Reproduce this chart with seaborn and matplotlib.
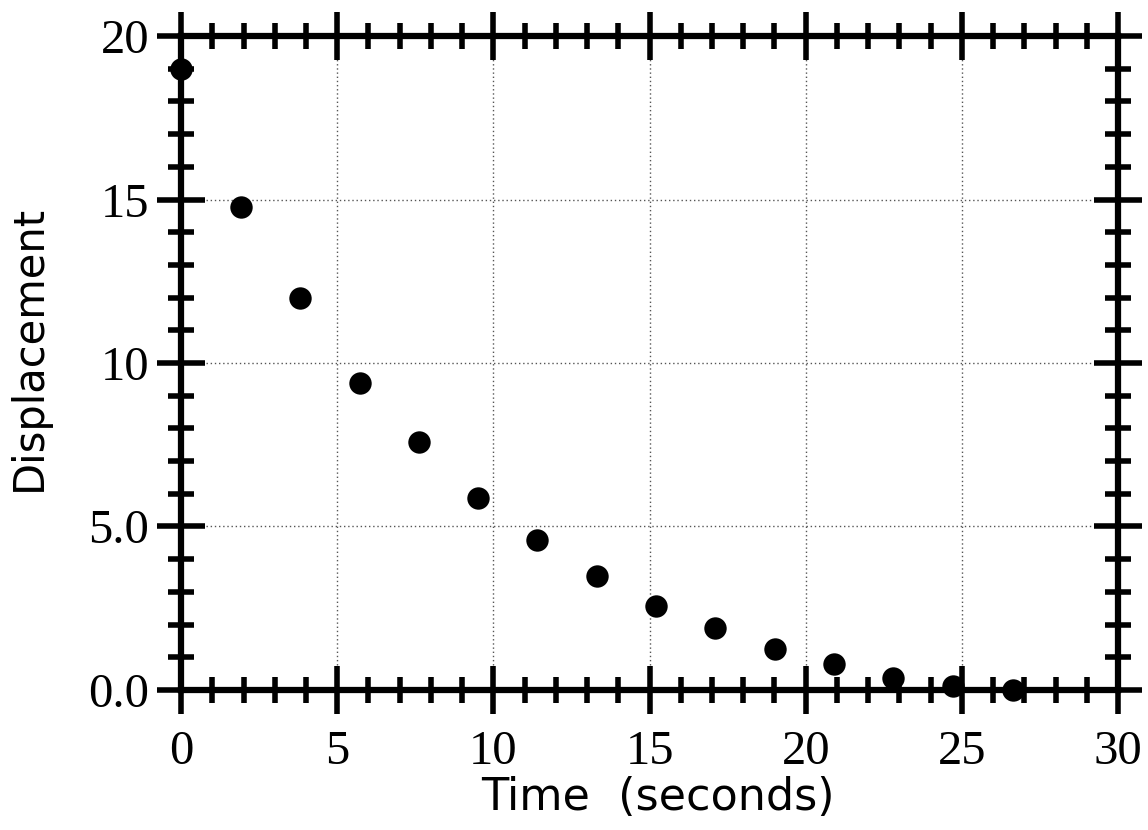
import matplotlib
matplotlib.use("Agg")
import matplotlib.pyplot as plt
import seaborn as sns
import pandas as pd
from matplotlib.ticker import MultipleLocator, FixedLocator, FixedFormatter

time_s = [0.0, 1.92, 3.81, 5.73, 7.62, 9.51, 11.4, 13.32, 15.21, 17.1, 19.02, 20.9, 22.8, 24.72, 26.64]
displacement = [19.0, 14.77, 11.99, 9.39, 7.58, 5.87, 4.59, 3.49, 2.57, 1.9, 1.25, 0.8, 0.37, 0.12, 0.0]
x_ticks = [0, 5, 10, 15, 20, 25, 30]
y_ticks = [0, 5, 10, 15, 20]
y_tick_labels = ["0.0", "5.0", "10", "15", "20"]

df = pd.DataFrame({"Time": time_s, "Displacement": displacement})

sns.set_style("white")
fig = plt.figure(figsize=(11.48, 8.3), dpi=100)
ax = fig.add_axes([0.1577, 0.1687, 0.9739 - 0.1577, 0.9566 - 0.1687])

sns.scatterplot(data=df, x="Time", y="Displacement", ax=ax, color="black",
                s=260, edgecolor="black", linewidth=0, zorder=5, clip_on=False)

ax.set_xlim(0, 30)
ax.set_ylim(0, 20)
ax.xaxis.set_major_locator(FixedLocator(x_ticks))
ax.xaxis.set_minor_locator(MultipleLocator(1))
ax.yaxis.set_major_locator(FixedLocator(y_ticks))
ax.yaxis.set_major_formatter(FixedFormatter(y_tick_labels))
ax.yaxis.set_minor_locator(MultipleLocator(1))

for sp in ax.spines.values():
    sp.set_linewidth(4.5)
    sp.set_color("black")
    sp.set_visible(True)

ax.tick_params(which="major", direction="inout", length=34, width=4.0, color="black",
               top=True, right=True, bottom=True, left=True)
ax.tick_params(which="minor", direction="inout", length=19, width=4.0, color="black",
               top=True, right=True, bottom=True, left=True)
ax.tick_params(axis="x", which="major", pad=12)
ax.tick_params(axis="y", which="major", pad=6)
ax.tick_params(axis="both", which="major", labelsize=35, labelcolor="black")
for lab in ax.get_xticklabels() + ax.get_yticklabels():
    lab.set_family("Liberation Serif")

ax.grid(True, which="major", linestyle=(0, (1, 2)), color="#555555", linewidth=1.0)
ax.set_axisbelow(True)

ax.set_xlabel("Time  (seconds)", fontsize=32, family="DejaVu Sans", color="black")
ax.set_ylabel("Displacement", fontsize=30, family="DejaVu Sans", color="black")
ax.xaxis.set_label_coords(0.509, -0.132)
ax.yaxis.set_label_coords(-0.14, 0.523)

fig.savefig("out.png", dpi=100)
